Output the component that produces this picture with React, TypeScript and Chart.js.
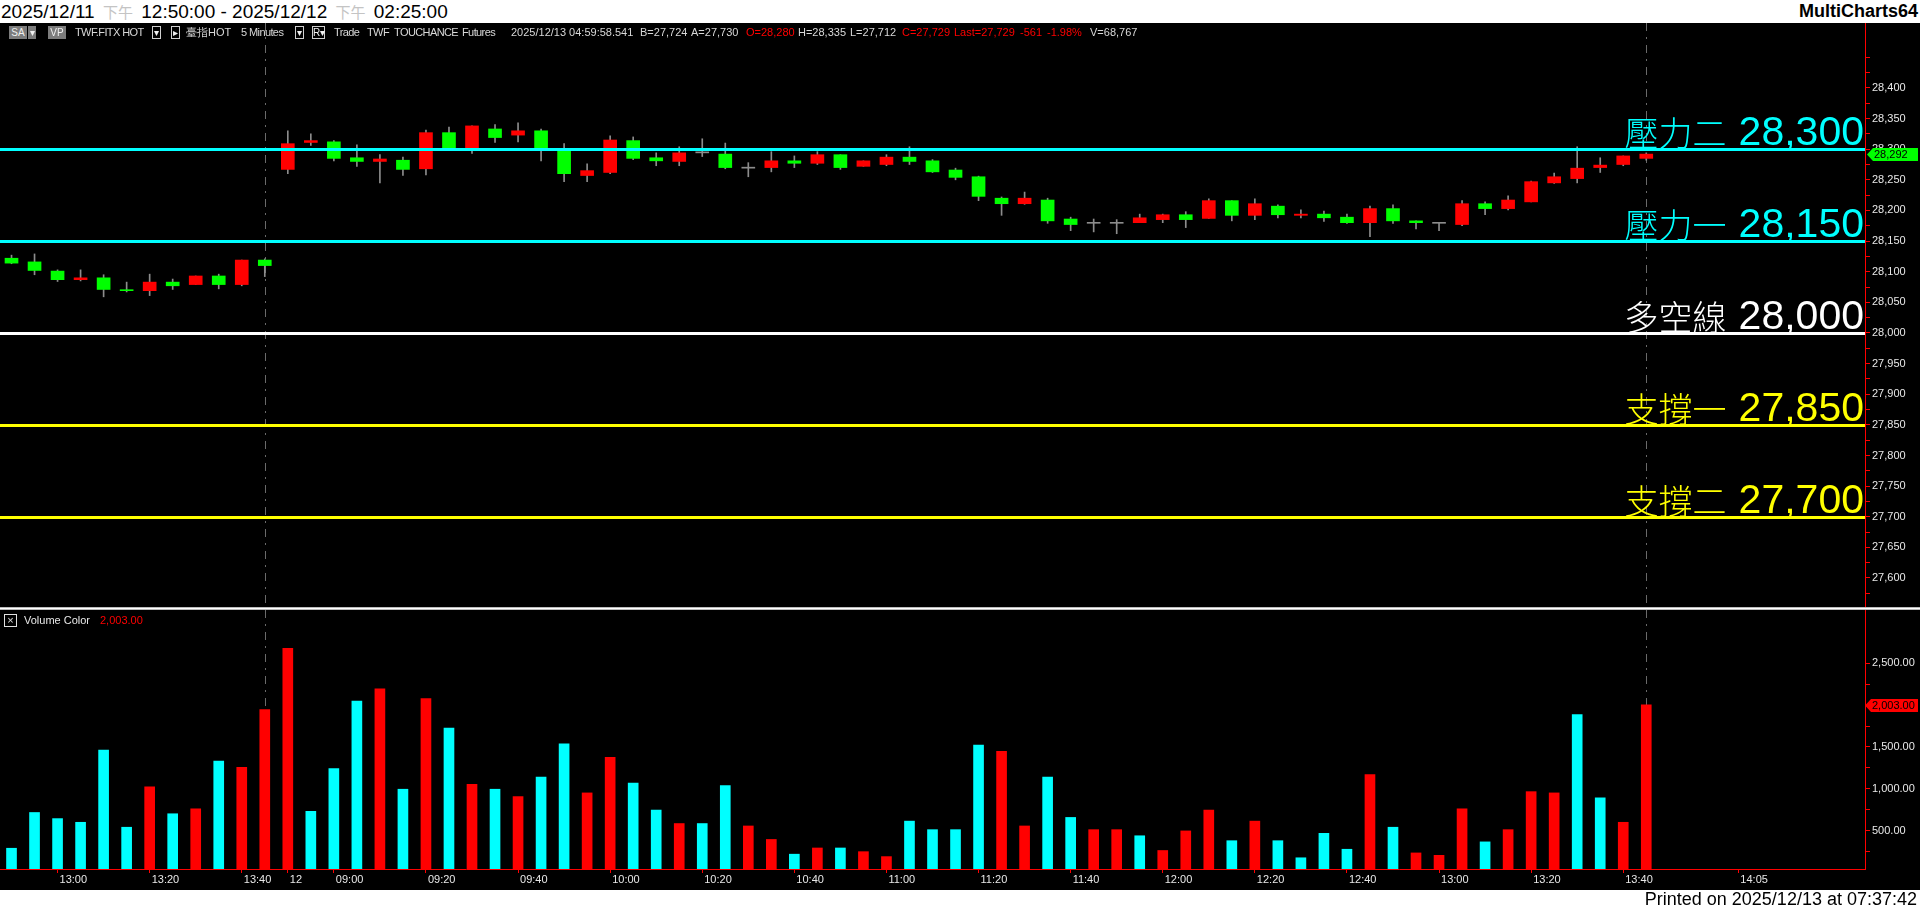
import React, { useEffect, useRef } from 'react';
import { Chart, registerables } from 'chart.js';

Chart.register(...registerables);

// ---------- data ----------
const barTimes = [
  '12:50', '12:55', '13:00', '13:05', '13:10', '13:15', '13:20', '13:25', '13:30', '13:35', '13:40', '13:45',
  '08:50', '08:55', '09:00', '09:05', '09:10', '09:15', '09:20', '09:25', '09:30', '09:35', '09:40', '09:45',
  '09:50', '09:55', '10:00', '10:05', '10:10', '10:15', '10:20', '10:25', '10:30', '10:35', '10:40', '10:45',
  '10:50', '10:55', '11:00', '11:05', '11:10', '11:15', '11:20', '11:25', '11:30', '11:35', '11:40', '11:45',
  '11:50', '11:55', '12:00', '12:05', '12:10', '12:15', '12:20', '12:25', '12:30', '12:35', '12:40', '12:45',
  '12:50', '12:55', '13:00', '13:05', '13:10', '13:15', '13:20', '13:25', '13:30', '13:35', '13:40', '13:45',
];
const futureTimes = ['13:50', '13:55', '14:00', '14:05', '14:10', '14:15', '14:20', '14:25', '14:30'];

const opens = [
  28122, 28116, 28101, 28087, 28090, 28070, 28069, 28083, 28079, 28093, 28079, 28119,
  28267, 28311, 28312, 28286, 28280, 28282, 28268, 28327, 28299, 28333, 28323, 28330,
  28299, 28257, 28262, 28314, 28286, 28280, 28294, 28292, 28269, 28270, 28281, 28277,
  28291, 28272, 28275, 28287, 28281, 28266, 28255, 28220, 28211, 28217, 28186, 28179,
  28179, 28180, 28185, 28193, 28187, 28216, 28192, 28207, 28192, 28194, 28189, 28180,
  28203, 28183, 28179, 28177, 28211, 28203, 28214, 28245, 28252, 28270, 28275, 28285,
];
const highs = [
  28127, 28129, 28103, 28103, 28095, 28083, 28096, 28088, 28093, 28096, 28119, 28121,
  28330, 28325, 28314, 28307, 28291, 28287, 28331, 28336, 28338, 28340, 28343, 28333,
  28309, 28276, 28322, 28320, 28294, 28304, 28317, 28310, 28278, 28296, 28289, 28296,
  28291, 28281, 28291, 28304, 28283, 28269, 28256, 28222, 28230, 28220, 28189, 28186,
  28185, 28194, 28194, 28198, 28219, 28216, 28219, 28209, 28201, 28199, 28194, 28207,
  28209, 28183, 28179, 28216, 28214, 28224, 28248, 28261, 28304, 28286, 28289, 28294,
];
const lows = [
  28113, 28095, 28084, 28085, 28059, 28067, 28061, 28071, 28079, 28072, 28077, 28092,
  28260, 28306, 28281, 28272, 28245, 28257, 28258, 28298, 28293, 28311, 28312, 28281,
  28247, 28247, 28260, 28283, 28273, 28273, 28288, 28268, 28255, 28263, 28270, 28275,
  28267, 28272, 28273, 28275, 28262, 28250, 28216, 28192, 28210, 28179, 28167, 28165,
  28162, 28180, 28180, 28172, 28187, 28183, 28185, 28188, 28188, 28182, 28179, 28157,
  28179, 28170, 28167, 28175, 28193, 28201, 28214, 28244, 28245, 28262, 28273, 28282,
];
const closes = [
  28114, 28102, 28087, 28090, 28071, 28069, 28083, 28077, 28093, 28079, 28119, 28110,
  28309, 28314, 28285, 28280, 28284, 28267, 28327, 28299, 28338, 28319, 28330, 28300,
  28260, 28265, 28315, 28285, 28281, 28294, 28294, 28270, 28269, 28281, 28277, 28291,
  28270, 28281, 28287, 28280, 28263, 28254, 28223, 28211, 28220, 28183, 28177, 28179,
  28179, 28188, 28193, 28185, 28216, 28192, 28211, 28193, 28194, 28188, 28180, 28203,
  28183, 28180, 28179, 28211, 28203, 28217, 28247, 28255, 28269, 28274, 28289, 28292,
];
const volumes = [
  290, 717, 644, 600, 1463, 541, 1024, 702, 761, 1331, 1258, 1946,
  2677, 731, 1243, 2048, 2194, 995, 2077, 1726, 1053, 995, 907, 1141,
  1536, 951, 1375, 1068, 746, 585, 585, 1039, 556, 395, 219, 293,
  293, 249, 190, 614, 512, 512, 1521, 1448, 556, 1141, 658, 512,
  512, 439, 263, 497, 746, 380, 614, 380, 176, 468, 278, 1170,
  541, 234, 205, 761, 366, 512, 966, 951, 1887, 892, 600, 2003,
];
// 1 = red (up volume), 0 = cyan
const volumeUp = [
  0, 0, 0, 0, 0, 0, 1, 0, 1, 0, 1, 1,
  1, 0, 0, 0, 1, 0, 1, 0, 1, 0, 1, 0,
  0, 1, 1, 0, 0, 1, 0, 0, 1, 1, 0, 1,
  0, 1, 1, 0, 0, 0, 0, 1, 1, 0, 0, 1,
  1, 0, 1, 1, 1, 0, 1, 0, 0, 0, 0, 1,
  0, 1, 1, 1, 0, 1, 1, 1, 0, 0, 1, 1,
];

const levelValues = [28300, 28150, 28000, 27850, 27700];
const levelNames = ['壓力二', '壓力一', '多空線', '支撐一', '支撐二'];

const priceTickLabels = [
  27600, 27650, 27700, 27750, 27800, 27850, 27900, 27950, 28000,
  28050, 28100, 28150, 28200, 28250, 28300, 28350, 28400,
];
const volumeTickLabels = [500, 1000, 1500, 2000, 2500];

const xTickSlots = [2, 6, 10, 12, 14, 18, 22, 26, 30, 34, 38, 42, 46, 50, 54, 58, 62, 66, 70, 75];
const xTickTexts = [
  '13:00', '13:20', '13:40', '12', '09:00', '09:20', '09:40', '10:00', '10:20', '10:40',
  '11:00', '11:20', '11:40', '12:00', '12:20', '12:40', '13:00', '13:20', '13:40', '14:05',
];
const dashedSlots = [11, 71];

const priceMin = 27551;
const priceMax = 28506;
const volumeMin = 42;
const volumeMax = 3136;

// ---------- styles ----------
const RED = '#ff0000';
const GREEN = '#00ff00';
const CYAN = '#00ffff';
const GRAY = '#8c8c8c';
const levelColors = [CYAN, CYAN, '#ffffff', '#ffff00', '#ffff00'];
const LABEL = '#e8e8e8';
const FONT = '"Liberation Sans", Arial, sans-serif';

const fmt = (v: number) => String(v).replace(/\B(?=(\d{3})+(?!\d))/g, ',');

function drawMarker(ctx: CanvasRenderingContext2D, x: number, y: number, right: number, bg: string, text: string) {
  ctx.save();
  ctx.fillStyle = bg;
  ctx.beginPath();
  ctx.moveTo(x, y);
  ctx.lineTo(x + 6, y - 6.5);
  ctx.lineTo(right, y - 6.5);
  ctx.lineTo(right, y + 6.5);
  ctx.lineTo(x + 6, y + 6.5);
  ctx.closePath();
  ctx.fill();
  ctx.fillStyle = '#000';
  ctx.font = '11px ' + FONT;
  ctx.textAlign = 'left';
  ctx.textBaseline = 'middle';
  ctx.fillText(text, x + 7, y + 0.5);
  ctx.restore();
}

const dashPlugin = {
  id: 'dashLines',
  beforeDatasetsDraw(chart: any) {
    const { ctx, chartArea, scales } = chart;
    ctx.save();
    ctx.strokeStyle = '#6a6a6a';
    ctx.lineWidth = 1;
    ctx.setLineDash([8, 6, 2, 6]);
    dashedSlots.forEach((s) => {
      const px = Math.round(scales.x.getPixelForValue(s)) + 0.5;
      ctx.beginPath();
      ctx.moveTo(px, chartArea.top);
      ctx.lineTo(px, chartArea.bottom);
      ctx.stroke();
    });
    ctx.restore();
  },
};

const levelPlugin = {
  id: 'levels',
  afterDatasetsDraw(chart: any) {
    const { ctx, chartArea, scales } = chart;
    ctx.save();
    levelValues.forEach((v, i) => {
      const py = Math.round(scales.y.getPixelForValue(v));
      ctx.strokeStyle = levelColors[i];
      ctx.lineWidth = 3;
      ctx.beginPath();
      ctx.moveTo(chartArea.left, py + 0.5);
      ctx.lineTo(chartArea.right, py + 0.5);
      ctx.stroke();
      const num = fmt(v);
      const right = chartArea.right - 1;
      ctx.fillStyle = levelColors[i];
      ctx.textAlign = 'right';
      ctx.textBaseline = 'alphabetic';
      ctx.font = '41px ' + FONT;
      ctx.fillText(num, right, py - 4);
      const w = ctx.measureText(num).width;
      ctx.font = '300 34px "Noto Sans CJK TC Light", "Noto Sans CJK TC", "Noto Sans CJK SC", sans-serif';
      ctx.fillText(levelNames[i], right - w - 12, py - 3);
    });
    ctx.restore();
  },
};

const priceMarkerPlugin = {
  id: 'priceMarker',
  afterDraw(chart: any) {
    const { ctx, chartArea, scales } = chart;
    const last = closes[closes.length - 1];
    const py = Math.round(scales.y.getPixelForValue(last)) + 0.5;
    drawMarker(ctx, chartArea.right + 2, py, chart.width - 2, GREEN, fmt(last));
  },
};

const volumeMarkerPlugin = {
  id: 'volumeMarker',
  afterDraw(chart: any) {
    const { ctx, chartArea, scales } = chart;
    const last = volumes[volumes.length - 1];
    const py = Math.round(scales.y.getPixelForValue(last)) + 0.5;
    drawMarker(ctx, chartArea.right, py, chart.width - 2, RED, fmt(last) + '.00');
  },
};

export default function App() {
  const priceRef = useRef<HTMLCanvasElement>(null);
  const volRef = useRef<HTMLCanvasElement>(null);

  useEffect(() => {
    Chart.defaults.font.family = FONT;
    Chart.defaults.color = LABEL;
    const labels = [...barTimes, ...futureTimes];
    const bodyColors = opens.map((o, i) => (closes[i] > o ? RED : closes[i] < o ? GREEN : GRAY));

    const price = new Chart(priceRef.current as HTMLCanvasElement, {
      type: 'bar',
      data: {
        labels,
        datasets: [
          {
            label: 'body',
            data: opens.map((o, i) => [o, closes[i]]) as any,
            backgroundColor: bodyColors,
            barThickness: 13,
            minBarLength: 1,
            grouped: false,
            order: 0,
          },
          {
            label: 'wick',
            data: lows.map((l, i) => [l, highs[i]]) as any,
            backgroundColor: GRAY,
            barThickness: 1,
            grouped: false,
            order: 1,
          },
        ],
      },
      options: {
        animation: false,
        responsive: false,
        devicePixelRatio: 1,
        layout: { padding: 0 },
        plugins: { legend: { display: false }, tooltip: { enabled: false } },
        scales: {
          x: { type: 'category', display: false, offset: true, grid: { display: false } },
          y: {
            position: 'right',
            min: priceMin,
            max: priceMax,
            afterBuildTicks: (s: any) => {
              const vals: number[] = [];
              priceTickLabels.forEach((v) => { vals.push(v - 25, v); });
              vals.push(28425, 28450);
              s.ticks = vals.map((value) => ({ value }));
            },
            afterFit: (s: any) => { s.width = 55; s.paddingTop = 0; s.paddingBottom = 0; },
            ticks: {
              autoSkip: false,
              padding: 2,
              color: LABEL,
              font: { size: 11 },
              callback: (v: any) => (priceTickLabels.includes(Number(v)) ? fmt(Number(v)) : ''),
            },
            grid: { drawOnChartArea: false, color: RED, tickLength: 5 },
            border: { color: RED },
          },
        },
      } as any,
      plugins: [dashPlugin, levelPlugin, priceMarkerPlugin],
    });

    const vol = new Chart(volRef.current as HTMLCanvasElement, {
      type: 'bar',
      data: {
        labels,
        datasets: [
          {
            label: 'Volume',
            data: volumes,
            backgroundColor: volumeUp.map((u) => (u ? RED : CYAN)),
            barThickness: 10,
          },
        ],
      },
      options: {
        animation: false,
        responsive: false,
        devicePixelRatio: 1,
        layout: { padding: 0 },
        plugins: { legend: { display: false }, tooltip: { enabled: false } },
        scales: {
          x: {
            type: 'category',
            offset: true,
            afterFit: (s: any) => { s.height = 21; s.paddingLeft = 0; s.paddingRight = 0; },
            grid: {
              display: true,
              drawOnChartArea: false,
              drawTicks: true,
              tickLength: 4,
              offset: false,
              color: (c: any) => (xTickSlots.includes(c.index) ? RED : 'rgba(0,0,0,0)'),
            },
            border: { display: true, color: RED },
            ticks: {
              autoSkip: false,
              maxRotation: 0,
              minRotation: 0,
              align: 'start',
              labelOffset: 2,
              padding: 0,
              color: LABEL,
              font: { size: 11 },
              callback: (_v: any, i: number) => {
                const k = xTickSlots.indexOf(i);
                return k >= 0 ? xTickTexts[k] : '';
              },
            },
          },
          y: {
            position: 'right',
            min: volumeMin,
            max: volumeMax,
            afterBuildTicks: (s: any) => {
              const vals: number[] = [];
              volumeTickLabels.forEach((v) => { vals.push(v - 250, v); });
              s.ticks = vals.map((value) => ({ value }));
            },
            afterFit: (s: any) => { s.width = 55; s.paddingTop = 0; s.paddingBottom = 0; },
            ticks: {
              autoSkip: false,
              padding: 2,
              color: LABEL,
              font: { size: 11 },
              callback: (v: any) => (volumeTickLabels.includes(Number(v)) ? fmt(Number(v)) + '.00' : ''),
            },
            grid: { drawOnChartArea: false, color: RED, tickLength: 5 },
            border: { color: RED },
          },
        },
      } as any,
      plugins: [dashPlugin, volumeMarkerPlugin],
    });

    return () => {
      price.destroy();
      vol.destroy();
    };
  }, []);

  const tb: React.CSSProperties = {
    position: 'absolute',
    top: 24,
    height: 17,
    lineHeight: '17px',
    fontSize: 11,
    whiteSpace: 'nowrap',
    color: '#d8d8d8',
  };
  const tw: React.CSSProperties = { ...tb, letterSpacing: '-0.6px' };
  const box = (left: number, width: number, filled: boolean): React.CSSProperties => ({
    position: 'absolute',
    left,
    top: 26,
    width,
    height: 13,
    boxSizing: 'border-box',
    border: filled ? 'none' : '1px solid #d0d0d0',
    background: filled ? '#7c7c7c' : '#000',
    color: '#f0f0f0',
    fontSize: 10,
    lineHeight: filled ? '13px' : '11px',
    textAlign: 'center',
  });
  const ampm: React.CSSProperties = {
    color: '#c4c4c4',
    fontSize: 15,
    fontFamily: '"Noto Sans CJK TC", sans-serif',
    margin: '0 3px',
  };

  return (
    <div
      style={{
        position: 'fixed',
        left: 0,
        top: 0,
        width: 1920,
        height: 908,
        background: '#000',
        overflow: 'hidden',
        fontFamily: FONT,
      }}
    >
      {/* title bar */}
      <div style={{ position: 'absolute', left: 0, top: 0, width: 1920, height: 23, background: '#fff' }}>
        <div style={{ position: 'absolute', left: 1, top: 0, height: 23, lineHeight: '23px', fontSize: 19, color: '#000', whiteSpace: 'nowrap' }}>
          2025/12/11 <span style={ampm}>下午</span> 12:50:00 - 2025/12/12 <span style={ampm}>下午</span> 02:25:00
        </div>
        <div style={{ position: 'absolute', right: 2, top: 0, height: 23, lineHeight: '23px', fontSize: 18, fontWeight: 'bold', color: '#000' }}>
          MultiCharts64
        </div>
      </div>

      <canvas ref={priceRef} width={1920} height={585} style={{ position: 'absolute', left: 0, top: 23, width: 1920, height: 585 }} />
      <canvas ref={volRef} width={1920} height={280} style={{ position: 'absolute', left: 0, top: 610, width: 1920, height: 280 }} />

      {/* toolbar */}
      <div style={box(9, 18, true)}>SA</div>
      <div style={box(28, 8, true)}>▾</div>
      <div style={box(48, 18, true)}>VP</div>
      <span style={{ ...tw, left: 75 }}>TWF.FITX HOT</span>
      <div style={box(152, 9, false)}>▾</div>
      <div style={box(171, 9, false)}>▸</div>
      <span style={{ ...tb, left: 186 }}>臺指HOT</span>
      <span style={{ ...tw, left: 241 }}>5 Minutes</span>
      <div style={box(295, 9, false)}>▾</div>
      <div style={box(312, 13, false)}>R▾</div>
      <span style={{ ...tw, left: 334 }}>Trade</span>
      <span style={{ ...tw, left: 367 }}>TWF</span>
      <span style={{ ...tw, left: 394 }}>TOUCHANCE</span>
      <span style={{ ...tw, left: 462 }}>Futures</span>
      <span style={{ ...tb, left: 511 }}>2025/12/13 04:59:58.541</span>
      <span style={{ ...tb, left: 640 }}>B=27,724</span>
      <span style={{ ...tb, left: 691 }}>A=27,730</span>
      <span style={{ ...tb, left: 746, color: RED }}>O=28,280</span>
      <span style={{ ...tb, left: 798 }}>H=28,335</span>
      <span style={{ ...tb, left: 850 }}>L=27,712</span>
      <span style={{ ...tb, left: 902, color: RED }}>C=27,729</span>
      <span style={{ ...tb, left: 954, color: RED }}>Last=27,729</span>
      <span style={{ ...tb, left: 1020, color: RED }}>-561</span>
      <span style={{ ...tb, left: 1047, color: RED }}>-1.98%</span>
      <span style={{ ...tb, left: 1090 }}>V=68,767</span>

      {/* pane separator */}
      <div
        style={{
          position: 'absolute',
          left: 0,
          top: 607,
          width: 1920,
          height: 3,
          background: 'linear-gradient(#9a9a9a, #ffffff, #9a9a9a)',
        }}
      />

      {/* volume legend */}
      <div
        style={{
          position: 'absolute',
          left: 4,
          top: 614,
          width: 13,
          height: 13,
          boxSizing: 'border-box',
          border: '1px solid #e0e0e0',
          color: '#e0e0e0',
          fontSize: 11,
          lineHeight: '11px',
          textAlign: 'center',
        }}
      >
        ×
      </div>
      <span style={{ position: 'absolute', left: 24, top: 613, lineHeight: '15px', fontSize: 11, color: '#e8e8e8' }}>Volume Color</span>
      <span style={{ position: 'absolute', left: 100, top: 613, lineHeight: '15px', fontSize: 11, color: RED }}>
        {fmt(volumes[volumes.length - 1])}.00
      </span>

      {/* bottom band */}
      <div style={{ position: 'absolute', left: 0, top: 890, width: 1920, height: 18, background: '#fff' }}>
        <div style={{ position: 'absolute', right: 3, top: 0, lineHeight: '18px', fontSize: 18, color: '#000', whiteSpace: 'nowrap' }}>
          Printed on 2025/12/13 at 07:37:42
        </div>
      </div>
    </div>
  );
}
